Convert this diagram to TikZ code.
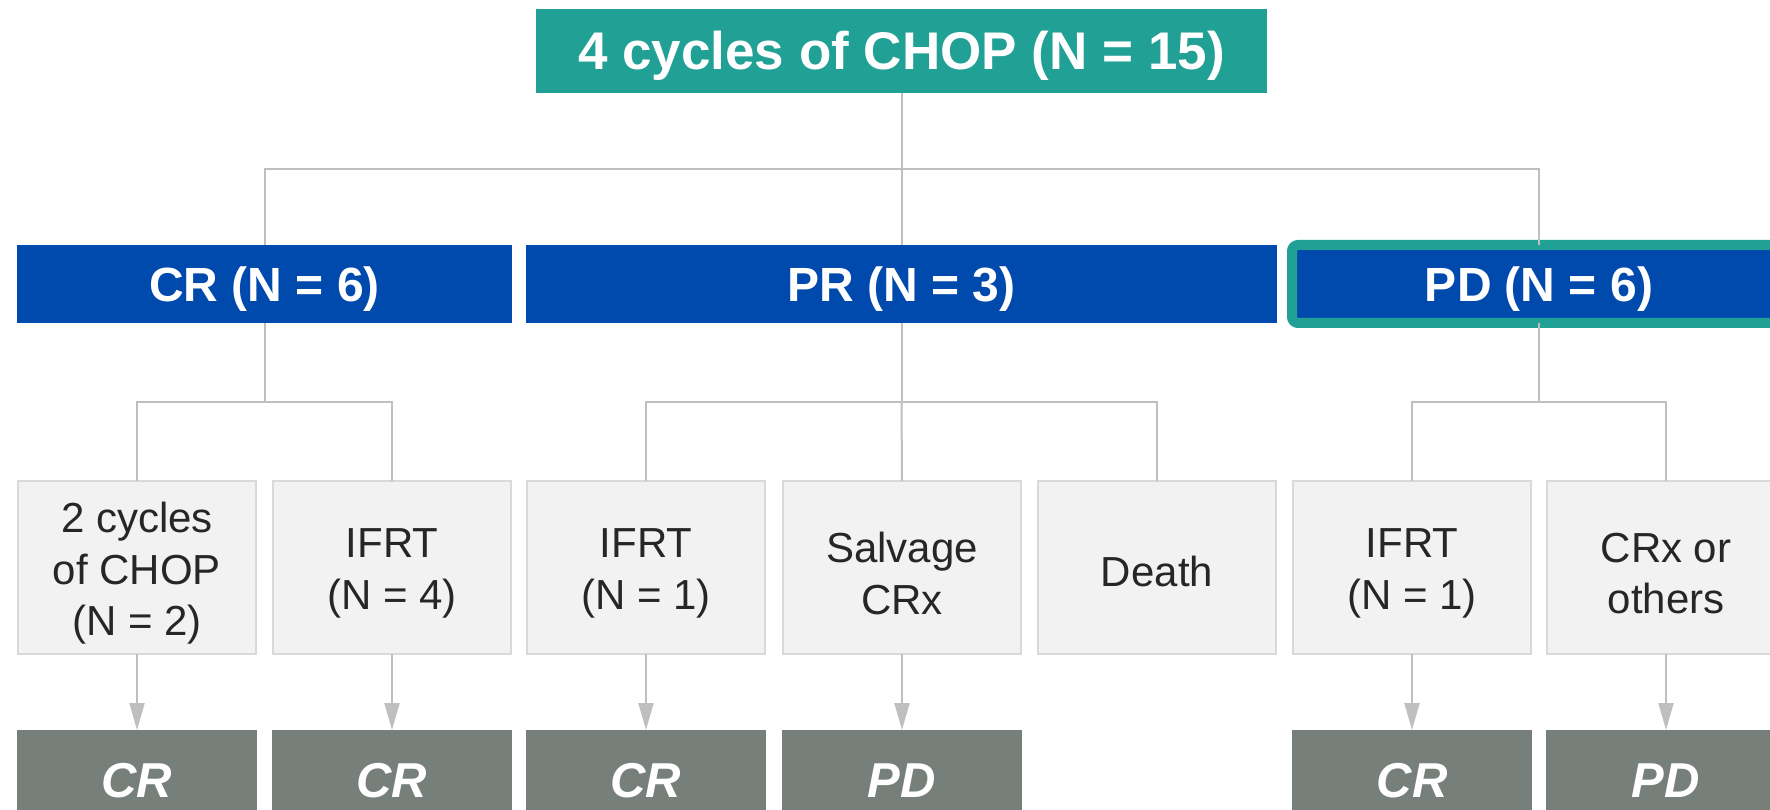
\documentclass[tikz,border=0pt]{standalone}
\usepackage{fontspec}
\setmainfont{Liberation Sans}
\usetikzlibrary{arrows.meta}
\definecolor{tealbox}{HTML}{21A095}
\definecolor{bluebox}{HTML}{004AAD}
\definecolor{greybox}{HTML}{F2F2F2}
\definecolor{greyborder}{HTML}{D9D9D9}
\definecolor{darkbox}{HTML}{767F7A}
\definecolor{linkcol}{HTML}{BFBFBF}
\definecolor{txtcol}{HTML}{262626}
\begin{document}
\begin{tikzpicture}[x=1pt,y=-1pt,
  box/.style={rectangle, inner sep=0pt, outer sep=0pt, anchor=north west},
  topbox/.style={box, fill=tealbox, minimum width=731pt, minimum height=84pt,
    text=white, font=\fontsize{53}{64}\selectfont\bfseries, text height=38pt, text depth=0pt},
  midbox/.style={box, fill=bluebox, minimum height=78pt,
    text=white, font=\fontsize{48}{58}\selectfont\bfseries, text height=34.4pt, text depth=0pt},
  optbox/.style={box, fill=greybox, draw=greyborder, line width=2pt,
    minimum width=238pt, minimum height=173pt},
  opttxt/.style={inner sep=0pt, align=center, text=txtcol,
    font=\fontsize{42}{51.5}\selectfont},
  resbox/.style={box, fill=darkbox, minimum width=240pt, minimum height=100pt,
    text=white, font=\fontsize{49}{59}\selectfont\bfseries\itshape, text height=35pt, text depth=0pt},
  link/.style={draw=linkcol, line width=2pt},
  arr/.style={link, -{Triangle[width=15pt,length=27pt]}}
]
\clip (0,0) rectangle (1770,810);
\fill[white] (0,0) rectangle (1770,810);

% top
\node[topbox] (top) at (536,9) {4 cycles of CHOP (N = 15)};

% level 2
\node[midbox, minimum width=495pt] (cr) at (17,245) {CR (N = 6)};
\node[midbox, minimum width=751pt] (pr) at (526,245) {PR (N = 3)};
\node[midbox, minimum width=494pt, draw=tealbox, line width=10pt, rounded corners=6pt] (pd) at (1292,245) {PD (N = 6)};

% level 3
\node[optbox] (a1) at (18,481) {};
\node[optbox] (a2) at (273,481) {};
\node[optbox] (b1) at (527,481) {};
\node[optbox] (b2) at (783,481) {};
\node[optbox] (b3) at (1038,481) {};
\node[optbox] (c1) at (1293,481) {};
\node[optbox] (c2) at (1547,481) {};

\node[opttxt] (a1t) at ([yshift=-6pt]a1.center) {2 cycles\\of CHOP\\(N = 2)};
\node[opttxt] (a2t) at ([yshift=-6pt]a2.center) {IFRT\\(N = 4)};
\node[opttxt] (b1t) at ([yshift=-6pt]b1.center) {IFRT\\(N = 1)};
\node[opttxt] (b2t) at ([yshift=-6pt]b2.center) {Salvage\\CRx};
\node[opttxt] (b3t) at ([yshift=-4pt]b3.center) {Death};
\node[opttxt] (c1t) at ([yshift=-6pt]c1.center) {IFRT\\(N = 1)};
\node[opttxt] (c2t) at ([yshift=-6pt]c2.center) {CRx or\\others};

% level 4
\node[resbox] (d1) at (17,730) {CR};
\node[resbox] (d2) at (272,730) {CR};
\node[resbox] (d3) at (526,730) {CR};
\node[resbox] (d4) at (782,730) {PD};
\node[resbox] (d5) at (1292,730) {CR};
\node[resbox] (d6) at (1546,730) {PD};

% connectors
\coordinate (j1) at (901.5,169);
\coordinate (jcr) at (264.5,401.5);
\coordinate (jpr) at (901.5,401.5);
\coordinate (jpd) at (1539,401.5);

\draw[link] (top.south) -- (j1);
\draw[link] (j1) -- (pr.north);
\draw[link] (cr.north) |- (j1);
\draw[link] (pd.north) |- (j1);

\draw[link] (cr.south) -- (jcr);
\draw[link] (a1.north) |- (jcr);
\draw[link] (a2.north) |- (jcr);

\draw[link] (pr.south) -- (jpr);
\draw[link] (b1.north) |- (jpr);
\draw[link] (b3.north) |- (jpr);
\draw[link] (jpr) -- (b2.north);

\draw[link] (pd.south) -- (jpd);
\draw[link] (c1.north) |- (jpd);
\draw[link] (c2.north) |- (jpd);

\draw[arr] (a1.south) -- (d1.north);
\draw[arr] (a2.south) -- (d2.north);
\draw[arr] (b1.south) -- (d3.north);
\draw[arr] (b2.south) -- (d4.north);
\draw[arr] (c1.south) -- (d5.north);
\draw[arr] (c2.south) -- (d6.north);
\end{tikzpicture}
\end{document}
